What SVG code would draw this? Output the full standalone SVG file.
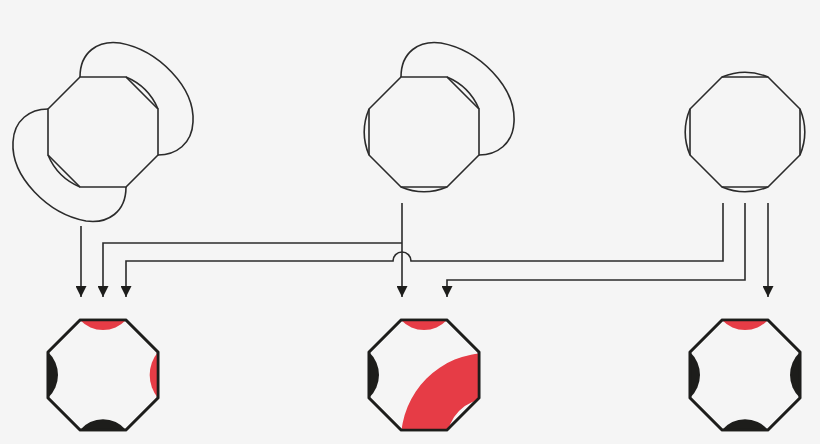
<svg xmlns="http://www.w3.org/2000/svg" width="820" height="444" viewBox="0 0 820 444">
<defs>
<style>
.ln{fill:none;stroke:#2b2b2b;stroke-width:1.6}
.oct{fill:#f5f5f5;stroke:#2b2b2b;stroke-width:1.6}
.boct{fill:#f5f5f5;stroke:#1d1d1b;stroke-width:2.6}
.red{fill:#e63c46}
.blk{fill:#1d1d1b}
</style>
<marker id="ah" viewBox="0 0 10 10" refX="10" refY="5" markerWidth="11" markerHeight="11" markerUnits="userSpaceOnUse" orient="auto">
<path d="M0,0 L10,5 L0,10 z" fill="#1d1d1b"/>
</marker>
<path id="octp" d="M-23,-55 L23,-55 L55,-23 L55,23 L23,55 L-23,55 L-55,23 L-55,-23 Z"/>
<clipPath id="clipm"><path d="M401,320 L447,320 L479,352 L479,398 L447,430 L401,430 L369,398 L369,352 Z"/></clipPath>
</defs>
<rect width="820" height="444" fill="#f5f5f5"/>

<g id="top-left" transform="translate(103,132)">
<path class="ln" d="M-23,-55 C-23,-80 -5,-92 17,-89 C55,-82 92,-45 90,-10 C89,12 73,23 55,23"/>
<path class="ln" d="M23,55 C23,80 5,92 -17,89 C-55,82 -92,45 -90,10 C-89,-12 -73,-23 -55,-23"/>
<use href="#octp" class="oct"/>
<path class="ln" d="M23,-55 A59.6 59.6 0 0 1 55,-23"/>
<path class="ln" d="M-23,55 A59.6 59.6 0 0 1 -55,23"/>
</g>

<g id="top-middle" transform="translate(424,132)">
<path class="ln" d="M-23,-55 C-23,-80 -5,-92 17,-89 C55,-82 92,-45 90,-10 C89,12 73,23 55,23"/>
<use href="#octp" class="oct"/>
<path class="ln" d="M23,-55 A59.6 59.6 0 0 1 55,-23"/>
<path class="ln" d="M-55,23 A59.6 59.6 0 0 1 -55,-23"/>
<path class="ln" d="M23,55 A59.6 59.6 0 0 1 -23,55"/>
</g>

<g id="top-right" transform="translate(745,132)">
<use href="#octp" class="oct"/>
<path class="ln" d="M-23,-55 A59.6 59.6 0 0 1 23,-55"/>
<path class="ln" d="M55,-23 A59.6 59.6 0 0 1 55,23"/>
<path class="ln" d="M23,55 A59.6 59.6 0 0 1 -23,55"/>
<path class="ln" d="M-55,23 A59.6 59.6 0 0 1 -55,-23"/>
</g>

<g id="connectors">
<path class="ln" marker-end="url(#ah)" d="M81,226 V297"/>
<path class="ln" marker-end="url(#ah)" d="M402,243 H103 V297"/>
<path class="ln" marker-end="url(#ah)" d="M402,203 V297"/>
<path class="ln" marker-end="url(#ah)" d="M723,203 V261 H411 A9 9 0 0 0 393,261 H126 V297"/>
<path class="ln" marker-end="url(#ah)" d="M745,203 V280 H447 V297"/>
<path class="ln" marker-end="url(#ah)" d="M768,203 V297"/>
</g>

<g id="bottom-left" transform="translate(103,375)">
<use href="#octp" class="boct"/>
<path class="red" d="M-23,-55 A31.5 31.5 0 0 0 23,-55 Z"/>
<path class="red" d="M55,-23 A36 36 0 0 0 55,23 Z"/>
<path class="blk" d="M23,55 A30 30 0 0 0 -23,55 Z"/>
<path class="blk" d="M-55,23 A31.5 31.5 0 0 0 -55,-23 Z"/>
<use href="#octp" fill="none" stroke="#1d1d1b" stroke-width="2.6"/>
</g>

<g id="bottom-middle">
<use href="#octp" class="boct" transform="translate(424,375)"/>
<path class="red" clip-path="url(#clipm)" fill-rule="evenodd" d="M401,440 A87 87 0 0 1 575,440 A87 87 0 0 1 401,440 Z M447,440 A41 41 0 0 1 529,440 A41 41 0 0 1 447,440 Z"/>
<g transform="translate(424,375)">
<path class="red" d="M-23,-55 A31.5 31.5 0 0 0 23,-55 Z"/>
<path class="blk" d="M-55,23 A31.5 31.5 0 0 0 -55,-23 Z"/>
<use href="#octp" fill="none" stroke="#1d1d1b" stroke-width="2.6"/>
</g>
</g>

<g id="bottom-right" transform="translate(745,375)">
<use href="#octp" class="boct"/>
<path class="red" d="M-23,-55 A31.5 31.5 0 0 0 23,-55 Z"/>
<path class="blk" d="M55,-23 A31.5 31.5 0 0 0 55,23 Z"/>
<path class="blk" d="M23,55 A30 30 0 0 0 -23,55 Z"/>
<path class="blk" d="M-55,23 A31.5 31.5 0 0 0 -55,-23 Z"/>
<use href="#octp" fill="none" stroke="#1d1d1b" stroke-width="2.6"/>
</g>
</svg>
